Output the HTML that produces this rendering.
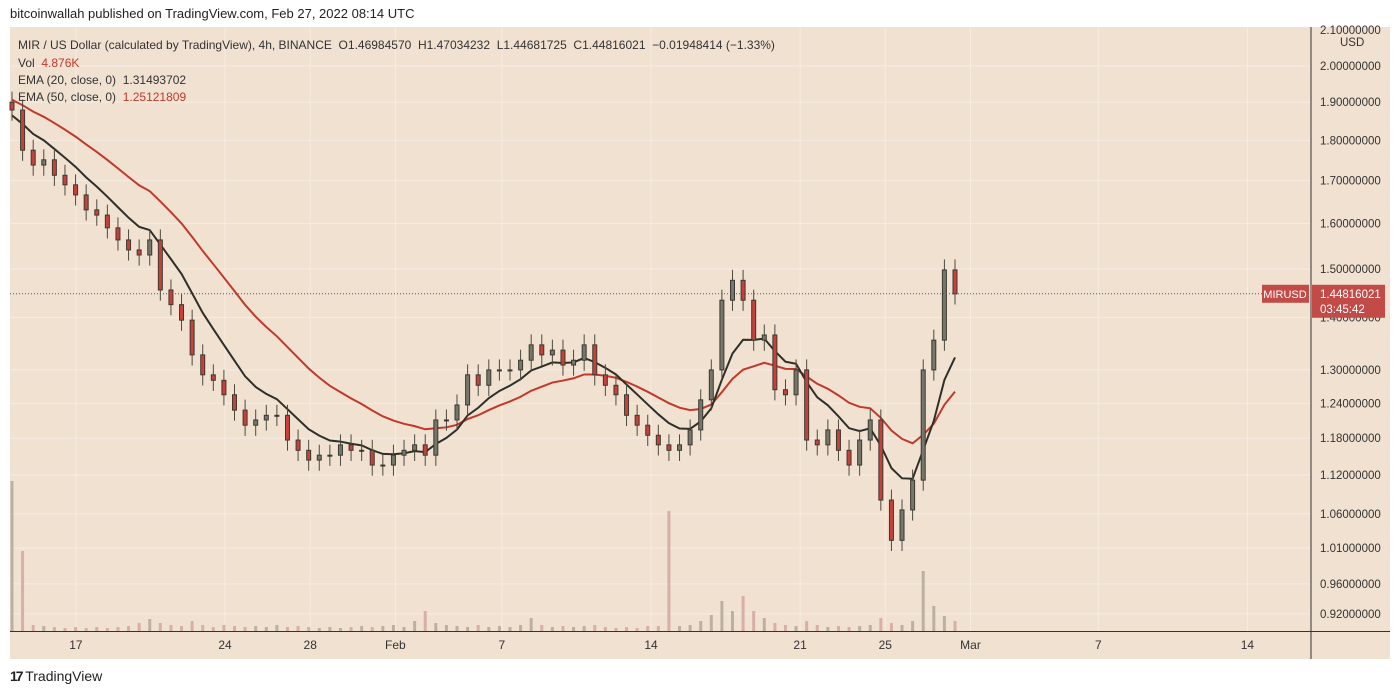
<!DOCTYPE html>
<html><head><meta charset="utf-8">
<style>
body{margin:0;width:1400px;height:696px;background:#fff;font-family:"Liberation Sans",sans-serif;overflow:hidden;position:relative}
.hdr{position:absolute;left:10px;top:6px;font-size:13px;color:#222}
.foot{position:absolute;left:10px;top:668px;font-size:14px;color:#222}
svg{position:absolute;left:0;top:0}
.leg{position:absolute;left:18px;font-size:12px;color:#333}
</style></head>
<body>
<div class="hdr">bitcoinwallah published on TradingView.com, Feb 27, 2022 08:14 UTC</div>
<svg id="chart" width="1400" height="696"></svg>
<div class="leg" style="top:38px">MIR / US Dollar (calculated by TradingView), 4h, BINANCE&nbsp; O1.46984570&nbsp; H1.47034232&nbsp; L1.44681725&nbsp; C1.44816021&nbsp; −0.01948414 (−1.33%)</div>
<div class="leg" style="top:56px">Vol&nbsp; <span style="color:#c0392b">4.876K</span></div>
<div class="leg" style="top:73px">EMA (20, close, 0)&nbsp; 1.31493702</div>
<div class="leg" style="top:90px">EMA (50, close, 0)&nbsp; <span style="color:#c0392b">1.25121809</span></div>
<div class="foot"><b style="letter-spacing:-2px">17</b> TradingView</div>
<script>
const closes=[1.879,1.775,1.738,1.751,1.713,1.690,1.666,1.631,1.619,1.590,1.563,1.541,1.530,1.563,1.456,1.426,1.395,1.328,1.291,1.281,1.255,1.228,1.202,1.211,1.219,1.219,1.177,1.160,1.144,1.152,1.152,1.169,1.160,1.160,1.136,1.136,1.152,1.160,1.169,1.152,1.211,1.211,1.237,1.291,1.272,1.300,1.300,1.300,1.318,1.347,1.328,1.337,1.309,1.318,1.347,1.291,1.272,1.255,1.219,1.202,1.185,1.169,1.160,1.169,1.194,1.246,1.300,1.435,1.476,1.435,1.356,1.366,1.264,1.255,1.300,1.177,1.169,1.194,1.160,1.136,1.177,1.211,1.081,1.021,1.066,1.112,1.300,1.356,1.498,1.448];
const volumes=[15,8,0.6,0.5,0.4,0.3,0.4,0.3,0.4,0.3,0.4,0.5,0.8,1.2,0.8,0.6,0.5,1,0.6,0.4,0.6,0.5,0.4,0.5,0.4,0.6,0.4,0.5,0.4,0.3,0.4,0.3,0.4,0.5,0.4,0.5,0.6,0.4,1,2,0.8,0.6,0.5,0.4,0.6,0.4,0.5,0.4,0.6,1.3,0.6,0.4,0.5,0.4,0.5,0.6,0.4,0.3,0.4,0.3,0.5,0.5,12,0.5,0.6,1,1.6,3,2,3.5,2,1.3,0.8,0.6,0.5,1,0.6,0.4,0.5,0.4,0.5,0.6,1.3,0.8,0.6,1,6,2.5,1.5,1];
const priceTicks=[2.0,1.9,1.8,1.7,1.6,1.5,1.4,1.3,1.24,1.18,1.12,1.06,1.01,0.96,0.92];
const dateTicks=["17","24","28","Feb","7","14","21","25","Mar","7","14"];
const dateDays=[3,10,14,18,23,30,37,41,45,51,58]; // days since Jan 14
const lastClose=1.44816021;
const NS="http://www.w3.org/2000/svg";
const svg=document.getElementById('chart');
function mk(t,a,p){const e=document.createElementNS(NS,t);for(const k in a)e.setAttribute(k,a[k]);(p||svg).appendChild(e);return e;}
const yS=p=>66+705.5*(Math.log(2)-Math.log(p));
const xDay=d=>12+21.3*d;
const xS=i=>12+i*(943/(closes.length-1));
const vY=v=>631-v*10;
let bg=mk('rect',{x:10,y:27,width:1380,height:632,fill:'#f1e1d1'});


priceTicks.forEach(p=>{const y=yS(p);
 let g=mk('line',{x1:10,x2:1310,y1:y,y2:y,stroke:'#f6ece2','stroke-width':1});
 
 
 let t=mk('text',{x:1320,y:y+4,'font-size':11.5,fill:'#333','font-family':'Liberation Sans'});t.textContent=p.toFixed(8);
 
 
});
let t21=mk('text',{x:1320,y:34,'font-size':11.5,fill:'#333'});t21.textContent='2.10000000';


let usd=mk('text',{x:1340,y:46,'font-size':11.5,fill:'#333'});usd.textContent='USD';


dateTicks.forEach((d,k)=>{const x=xDay(dateDays[k]);
 let g=mk('line',{x1:x,x2:x,y1:27,y2:631,stroke:'#f6ece2','stroke-width':1});
 
 
 let t=mk('text',{x:x,y:649,'font-size':12,fill:'#333','text-anchor':'middle'});t.textContent=d;
 
 
});
let ax=mk('line',{x1:1311,x2:1311,y1:27,y2:659,stroke:'#333','stroke-width':1});


let bx=mk('line',{x1:10,x2:1390,y1:631.5,y2:631.5,stroke:'#333','stroke-width':1});


volumes.forEach((v,i)=>{
 let r=mk('rect',{x:xS(i)-1.5,y:vY(v),width:3,height:631-vY(v),fill:i>0&&closes[i]<closes[i-1]?'#d8aea6':'#bcb0a2'});
 
 
});
function ema(period,seed){const a=2/(period+1);let e=seed;return closes.map(c=>(e=e+a*(c-e)));}
const e20=ema(7,1.86),e50=ema(17,1.91);
[[e50,'#c0392b'],[e20,'#2f2f2a']].forEach(([arr,col],k)=>{
 let l=mk('polyline',{points:arr.map((v,i)=>xS(i)+','+yS(v)).join(' '),fill:'none',stroke:col,'stroke-width':2});
 
 
});
closes.forEach((c,i)=>{
 const o=i?closes[i-1]:1.90;const hi=Math.max(o,c)*1.015,lo=Math.min(o,c)*0.985;const x=xS(i);
 let w=mk('line',{x1:x,x2:x,y1:yS(hi),y2:yS(lo),stroke:'#4a4a40','stroke-width':1});
 
 
 const top=yS(Math.max(o,c)),bot=yS(Math.min(o,c));
 let b=mk('rect',{x:x-2,y:top,width:4,height:Math.max(1,bot-top),fill:c<o?'#c9403a':'#76766a',stroke:'#3a3a32','stroke-width':1});
 
 
});
const ly=yS(lastClose);
let pl=mk('line',{x1:10,x2:1262,y1:ly,y2:ly,stroke:'#555','stroke-width':1,'stroke-dasharray':'1,2'});


let sb=mk('rect',{x:1262,y:ly-9,width:47,height:18,fill:'#c24a47'});


let st=mk('text',{x:1285,y:ly+4,'font-size':11,fill:'#fff','text-anchor':'middle'});st.textContent='MIRUSD';


let pb=mk('rect',{x:1312,y:ly-9,width:73,height:33,fill:'#c24a47'});


let pt=mk('text',{x:1320,y:ly+4,'font-size':11.5,fill:'#fff'});pt.textContent='1.44816021';


let ct=mk('text',{x:1320,y:ly+19,'font-size':11.5,fill:'#fff'});ct.textContent='03:45:42';


</script>
</body></html>
